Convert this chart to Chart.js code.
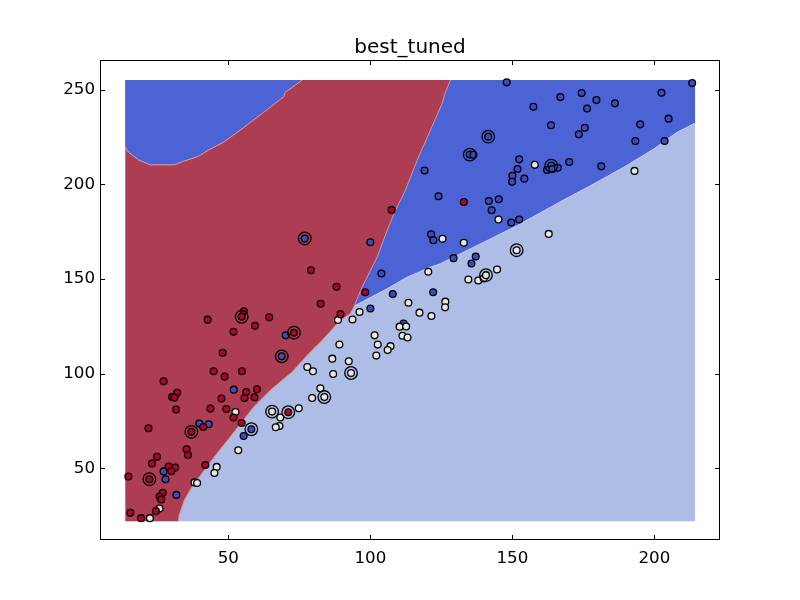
<!DOCTYPE html>
<html>
<head>
<meta charset="utf-8">
<title>best_tuned</title>
<script src="https://cdn.jsdelivr.net/npm/chart.js@4"></script>
<style>
  body { margin: 0; background: #fff; }
  canvas { display: block; }
</style>
</head>
<body>
<canvas id="svmChart" width="800" height="600"></canvas>
<script>
// Samples, one pair of arrays per class
const blueX = [39.8,43.1,27.2,27.9,31.7,68.8,51.9,58.1,55.4,76.9,70.2,103.9,107.9,100,122.1,135.6,111.7,119.1,124,141.7,145.2,142.7,121.4,122.2,100,149.6,152.4,129.3,137.1,150,149.9,151.8,154.2,152.4,148,213.3,202.5,166.9,174.4,179.6,186.1,157.4,176.3,205,195,175.5,173.4,163.6,193.3,203.6,141.5,135,136.3,163.7,162.2,164.1,166,170,181.3];
const blueY = [73.6,73.2,48.3,44.2,35.9,109.1,91.5,70.6,67,171.4,120.2,152.9,142,134.4,143,158.2,126.4,207.3,193.7,191.2,192.1,186.3,173.6,170.5,169.4,179.8,181.4,161,161.9,204.5,201.3,208.1,203,213.2,253.9,253.5,248.4,246.1,248.2,244.5,242.8,241,240.1,234.7,231.7,229.9,226.4,231.2,222.9,222.9,225.2,215.7,215.6,209.9,207.6,208.1,208.8,211.8,209.5];

const whiteX = [45.9,45.1,38.1,39,25.8,22.4,89.1,86.6,77.8,79.8,86.9,92.4,93.2,82.4,79.5,83.8,74.8,65.4,68.3,68,66.7,52.5,53.5,88.6,120.4,134.5,138,139.9,140.7,144.6,113.4,126.4,126.3,117.3,121.5,96.2,93.7,110.3,112.6,111.3,113.1,101.5,102.6,107.1,106.1,102.1,125.4,132.9,145.1,151.5,157.9,162.8,193];
const whiteY = [50.7,47.5,42.5,42.2,28.7,23.6,115.4,107.9,103.5,101.2,99.8,106.5,100.3,92.2,87.1,87.6,81.7,79.9,76.8,72.3,71.6,79.7,59.5,128.3,153.8,149.7,149.2,150.3,152,155,137.4,138,135,132.2,130.4,132.5,128.6,124.8,124.9,120,119.1,120.2,115.3,114.5,112.4,109.5,171.2,169.1,181.4,165.2,210.3,173.8,207.1];

const redX = [44.8,48.7,27.2,32,30.2,31,47.6,31.6,43.7,49.3,21.9,41.2,37,35.3,35.8,24.9,23.1,29,31.3,29.9,14.8,22.2,41.9,26.9,25.8,26.4,24.5,15.5,19.3,48,54.8,60.1,56.3,55.7,59.2,51.8,54.7,71.1,79.1,88.1,82.5,89.5,55.5,54.7,42.7,64.4,59.4,51.8,73.1,98.2,132.9,107.5];
const redY = [101.2,98.4,95.9,89.9,87.6,87.3,86.8,81,81.5,81.3,71.1,71.8,69.2,60,57,56,52.5,50.9,50.4,48.4,45.6,44.2,51.7,37,35,33.5,27.3,26.4,23.6,111,101.2,91.7,90.3,87.1,87.5,76.8,73.9,79.6,154.6,145.9,136.9,131.4,132.9,130,128.5,129.7,125.3,122.1,121.6,143,190.7,186.5];

// Support vectors get the big open ring
const ringX = [76.9,54.7,73.1,68.8,93.2,83.8,65.4,71.1,58.1,37,22.2,141.5,135,163.7,151.5,140.7];
const ringY = [171.4,130,121.6,109.1,100.3,87.6,79.9,79.6,70.6,69.2,44.2,225.2,215.7,209.9,165.2,152];

// Decision regions, bounds of the mesh and the boundary between each class
const meshX = [13.7,214.4];
const meshBottom = 22;
const meshTop = 255.1;

const lightEdgeX = [90,94.7,105.9,112.9,121.1,124.6,139.9,151.7,163.4,168.1,177.5,189.2,199.8,208,214.4];
const lightEdgeY = [133,136,144.8,150.9,156.2,158,169.4,178.2,187.9,191.8,199.3,209,218.7,227.5,232.4];

const redEdgeX = [13.7,32.4,32.7,34.5,37.2,40.7,46,50.5,58.9,64.8,72.4,78.3,83,89.4,93,94.4,97.1,102.4,105.9,108.8,112.3,116.4,121.1,125.2,126.4,128.2];
const redEdgeY = [22,22,25.2,33.1,40.1,47.2,57.8,66.2,82.3,91.2,100.8,110.5,117.5,128.1,131.6,136,145.7,161.5,175.6,186.1,196.7,212.5,228.4,242.5,248.6,255.1];

const blobEdgeX = [13.7,14.9,18.4,22.5,31,34.3,39.5,43.1,48.3,54.8,62.4,69.5,70.1,76];
const blobEdgeY = [219.6,216.9,212.9,210.3,210.3,212.2,214.8,218.2,222.2,229.3,238,246.3,248.6,255.1];

// Axis labels
const xTicks = [50,100,150,200];
const yTicks = [50,100,150,200,250];

const toPoints = (xs,ys) => xs.map((x,i) => ({x, y: ys[i]}));

const regionLayer = (xs,ys,color,edge,fillTo,order) => ({
  type: `line`,
  data: toPoints(xs,ys),
  backgroundColor: color,
  borderColor: edge,
  borderWidth: edge === `transparent` ? 0 : 1,
  pointRadius: 0,
  tension: 0,
  fill: {value: fillTo},
  order
});

const sampleLayer = (xs,ys,color,order) => ({
  data: toPoints(xs,ys),
  backgroundColor: color,
  borderColor: `#000`,
  borderWidth: 1.3,
  pointRadius: 3.4,
  order
});

// Old matplotlib frame: black box with ticks pointing in on all four sides
const frame = {
  id: `frame`,
  afterDraw(chart) {
    const {ctx, chartArea: {left,right,top,bottom}, scales: {x,y}} = chart;
    ctx.save();
    ctx.strokeStyle = `#000`;
    ctx.lineWidth = 1;
    ctx.strokeRect(left+0.5,top+0.5,right-left-1,bottom-top-1);
    ctx.beginPath();
    xTicks.forEach(t => {
      const px = Math.round(x.getPixelForValue(t))+0.5;
      ctx.moveTo(px,top); ctx.lineTo(px,top+5);
      ctx.moveTo(px,bottom); ctx.lineTo(px,bottom-5);
    });
    yTicks.forEach(t => {
      const py = Math.round(y.getPixelForValue(t))+0.5;
      ctx.moveTo(left,py); ctx.lineTo(left+5,py);
      ctx.moveTo(right,py); ctx.lineTo(right-5,py);
    });
    ctx.stroke();
    ctx.restore();
  }
};

new Chart(document.getElementById(`svmChart`), {
  type: `scatter`,
  data: {
    datasets: [
      regionLayer(meshX,[meshTop,meshTop],`#aebde6`,`transparent`,meshBottom,10),
      regionLayer(lightEdgeX,lightEdgeY,`#4b63d5`,`#c3cdf0`,meshTop,9),
      regionLayer(redEdgeX,redEdgeY,`#ad3d52`,`transparent`,meshTop,8),
      // edge of the red area on its own, the first stretch lies along the mesh bottom
      {
        type: `line`,
        data: toPoints(redEdgeX.slice(1),redEdgeY.slice(1)),
        borderColor: `#ee8f7c`,
        borderWidth: 1,
        pointRadius: 0,
        fill: false,
        order: 7.5
      },
      regionLayer(blobEdgeX,blobEdgeY,`#4b63d5`,`#d9a0a8`,meshTop,7),
      sampleLayer(blueX,blueY,`#3b4cc0`,6),
      sampleLayer(whiteX,whiteY,`#e8e8e2`,5),
      sampleLayer(redX,redY,`#b40426`,4),
      {
        data: toPoints(ringX,ringY),
        backgroundColor: `transparent`,
        borderColor: `#000`,
        borderWidth: 1.3,
        pointRadius: 6.3,
        order: 3
      }
    ]
  },
  options: {
    responsive: false,
    animation: false,
    devicePixelRatio: 1,
    layout: {padding: {right: 80}},
    plugins: {
      legend: {display: false},
      tooltip: {enabled: false},
      title: {
        display: true,
        fullSize: false,
        text: `best_tuned`,
        color: `#000`,
        font: {family: `"DejaVu Sans"`, size: 20, weight: `normal`, lineHeight: 1.2},
        padding: {top: 36, bottom: 0}
      }
    },
    scales: {
      x: {
        type: `linear`,
        min: 4.82,
        max: 223.1,
        afterFit: s => { s.height = 60; },
        grid: {display: false, tickLength: 0},
        border: {display: false},
        ticks: {
          stepSize: 50,
          includeBounds: false,
          maxRotation: 0,
          color: `#000`,
          padding: 9,
          font: {family: `"DejaVu Sans"`, size: 16.7}
        },
        afterBuildTicks: s => { s.ticks = xTicks.map(value => ({value})); }
      },
      y: {
        type: `linear`,
        min: 12.06,
        max: 265.7,
        afterFit: s => { s.width = 100; },
        grid: {display: false, tickLength: 0},
        border: {display: false},
        ticks: {
          stepSize: 50,
          includeBounds: false,
          color: `#000`,
          padding: 5,
          font: {family: `"DejaVu Sans"`, size: 16.7}
        },
        afterBuildTicks: s => { s.ticks = yTicks.map(value => ({value})); }
      }
    }
  },
  plugins: [frame]
});
</script>
</body>
</html>
